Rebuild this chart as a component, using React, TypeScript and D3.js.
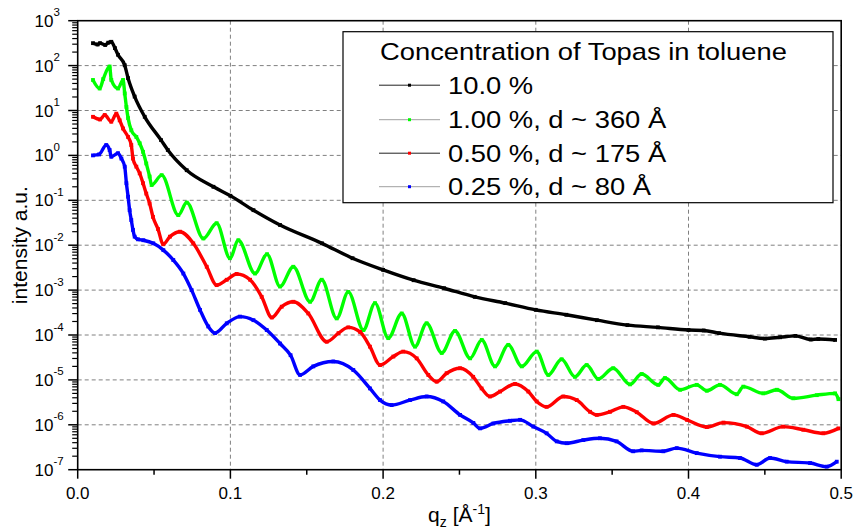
import React from "react";
import * as d3 from "d3";

const W = 857;
const H = 529;
const PLOT = { left: 77.7, right: 841.2, top: 20.7, bottom: 469.7 };
const FONT = "'Liberation Sans', Arial, Helvetica, sans-serif";

// axis ticks
const xMajorTicks = [0, 0.1, 0.2, 0.3, 0.4, 0.5];
const xTickLabels = ["0.0", "0.1", "0.2", "0.3", "0.4", "0.5"];
const xMinorTicks = [0.05, 0.15, 0.25, 0.35, 0.45];
const yExponents = [3, 2, 1, 0, -1, -2, -3, -4, -5, -6, -7];

const legendTitle = "Concentration of Topas in toluene";
const seriesLabels = ["10.0 %", "1.00 %, d ~ 360 \u00C5", "0.50 %, d ~ 175 \u00C5", "0.25 %, d ~ 80 \u00C5"];

// [q_z (1/Å), intensity (a.u.)]
const black10: [number, number][] = [
  [0.0100, 316], [0.0130, 295], [0.0146, 316], [0.0180, 288], [0.0200, 324], [0.0220, 339],
  [0.0244, 245], [0.0264, 174], [0.0308, 102], [0.0330, 52.5], [0.0373, 20.4], [0.0439, 7.24],
  [0.0546, 2.19], [0.0590, 1.32], [0.0714, 0.468], [0.0889, 0.200], [0.100, 0.126], [0.1151, 0.0603],
  [0.1325, 0.0282], [0.160, 0.0110], [0.180, 5.13e-3], [0.200, 2.82e-3], [0.220, 1.66e-3], [0.240, 1.10e-3],
  [0.260, 7.08e-4], [0.280, 5.13e-4], [0.300, 3.63e-4], [0.320, 2.82e-4], [0.340, 2.14e-4], [0.360, 1.66e-4],
  [0.380, 1.48e-4], [0.400, 1.29e-4], [0.410, 1.26e-4], [0.420, 1.10e-4], [0.440, 9.12e-5], [0.450, 8.32e-5],
  [0.460, 8.91e-5], [0.470, 9.55e-5], [0.480, 7.94e-5], [0.485, 8.13e-5], [0.496, 7.76e-5],
];

const green100: [number, number][] = [
  [0.0100, 47.9], [0.0144, 30.9], [0.0167, 50], [0.0209, 95.5], [0.0220, 47.9], [0.0264, 30.9],
  [0.0297, 47.9], [0.0308, 24.0], [0.0319, 12.0], [0.0330, 6.76], [0.0351, 3.63], [0.0384, 2.57],
  [0.0406, 1.86], [0.0428, 1.20], [0.0449, 0.661], [0.0471, 0.339], [0.0484, 0.219], [0.0550, 0.363],
  [0.0659, 0.0468], [0.0714, 0.0891], [0.0823, 0.0141], [0.0910, 0.0309], [0.0997, 5.13e-3], [0.1052, 0.0129],
  [0.1161, 2.34e-3], [0.1240, 6.31e-3], [0.1325, 1.20e-3], [0.1412, 3.31e-3], [0.1522, 5.50e-4], [0.1598, 1.70e-3],
  [0.1696, 2.34e-4], [0.1772, 9.12e-4], [0.1871, 1.29e-4], [0.1947, 5.13e-4], [0.2034, 8.51e-5], [0.2122, 3.02e-4],
  [0.2209, 5.50e-5], [0.2285, 1.82e-4], [0.2384, 3.98e-5], [0.2471, 1.23e-4], [0.2570, 3.02e-5], [0.2646, 7.76e-5],
  [0.2733, 2.00e-5], [0.2820, 6.03e-5], [0.2908, 2.00e-5], [0.3006, 4.27e-5], [0.3082, 1.29e-5], [0.3169, 2.88e-5],
  [0.3256, 1.17e-5], [0.3333, 2.14e-5], [0.3409, 1.05e-5], [0.3507, 1.82e-5], [0.3617, 7.94e-6], [0.3693, 1.35e-5],
  [0.3802, 7.76e-6], [0.3846, 1.10e-5], [0.3945, 6.03e-6], [0.4054, 7.76e-6], [0.4120, 5.75e-6], [0.4206, 7.76e-6],
  [0.4316, 4.79e-6], [0.4359, 7.08e-6], [0.4490, 5.01e-6], [0.4578, 6.03e-6], [0.4687, 3.89e-6], [0.4840, 4.57e-6],
  [0.4960, 5.01e-6], [0.4982, 3.72e-6],
];

const red050: [number, number][] = [
  [0.0100, 7.24], [0.0146, 6.31], [0.0177, 7.94], [0.0220, 5.62], [0.0253, 8.51], [0.0275, 6.03],
  [0.0297, 3.98], [0.0330, 2.57], [0.0351, 1.70], [0.0362, 0.851], [0.0384, 0.562], [0.0406, 0.398],
  [0.0428, 0.240], [0.0449, 0.141], [0.0471, 0.0851], [0.0493, 0.0427], [0.0526, 0.0229], [0.0560, 0.0105],
  [0.0604, 0.0155], [0.0670, 0.0200], [0.0757, 0.0110], [0.0845, 3.31e-3], [0.0910, 1.29e-3], [0.0976, 1.70e-3],
  [0.1041, 2.29e-3], [0.1129, 1.70e-3], [0.1205, 7.08e-4], [0.1271, 2.45e-4], [0.1336, 4.27e-4], [0.1412, 5.50e-4],
  [0.1510, 3.02e-4], [0.1631, 7.08e-5], [0.1708, 1.10e-4], [0.1772, 1.48e-4], [0.1849, 1.17e-4], [0.1914, 5.50e-5],
  [0.1980, 2.14e-5], [0.2067, 3.31e-5], [0.2132, 4.27e-5], [0.2220, 3.02e-5], [0.2296, 1.29e-5], [0.2351, 9.12e-6],
  [0.2416, 1.41e-5], [0.2504, 1.82e-5], [0.2590, 1.17e-5], [0.2645, 6.46e-6], [0.2700, 4.27e-6], [0.2766, 5.50e-6],
  [0.2864, 8.13e-6], [0.2951, 5.50e-6], [0.3006, 3.31e-6], [0.3071, 2.51e-6], [0.3180, 4.27e-6], [0.3268, 3.55e-6],
  [0.3355, 1.95e-6], [0.3399, 1.66e-6], [0.3486, 1.95e-6], [0.3573, 2.51e-6], [0.3661, 1.91e-6], [0.3771, 1.07e-6],
  [0.3902, 1.66e-6], [0.3990, 1.29e-6], [0.4120, 8.91e-7], [0.4229, 1.12e-6], [0.4382, 9.12e-7], [0.4480, 6.46e-7],
  [0.4620, 9.12e-7], [0.4752, 7.76e-7], [0.4883, 6.46e-7], [0.4982, 8.32e-7],
];

const blue025: [number, number][] = [
  [0.0100, 1.00], [0.0140, 1.05], [0.0187, 1.70], [0.0209, 1.32], [0.0220, 0.933], [0.0264, 1.12],
  [0.0286, 0.851], [0.0308, 0.562], [0.0319, 0.240], [0.0330, 0.120], [0.0340, 0.0603], [0.0351, 0.0363],
  [0.0362, 0.0219], [0.0373, 0.0155], [0.0395, 0.0135], [0.0430, 0.0129], [0.0495, 0.0110], [0.0561, 7.76e-3],
  [0.0626, 4.68e-3], [0.0692, 2.34e-3], [0.0746, 1.00e-3], [0.0801, 3.63e-4], [0.0855, 1.55e-4], [0.0899, 1.10e-4],
  [0.0976, 1.82e-4], [0.1063, 2.57e-4], [0.1151, 2.14e-4], [0.1238, 1.29e-4], [0.1325, 6.46e-5], [0.1394, 3.55e-5],
  [0.1456, 1.29e-5], [0.1543, 2.00e-5], [0.1674, 2.57e-5], [0.1805, 1.66e-5], [0.1914, 6.46e-6], [0.1980, 3.55e-6],
  [0.2056, 2.75e-6], [0.2176, 3.55e-6], [0.2285, 4.27e-6], [0.2394, 3.31e-6], [0.2504, 1.66e-6], [0.2591, 1.10e-6],
  [0.2635, 8.32e-7], [0.2722, 1.07e-6], [0.2831, 1.23e-6], [0.2897, 1.29e-6], [0.2984, 9.12e-7], [0.3071, 6.46e-7],
  [0.3137, 4.27e-7], [0.3202, 3.89e-7], [0.3311, 4.57e-7], [0.3420, 5.01e-7], [0.3529, 4.27e-7], [0.3638, 2.57e-7],
  [0.3693, 2.69e-7], [0.3835, 2.57e-7], [0.3923, 3.02e-7], [0.4054, 2.34e-7], [0.4206, 1.95e-7], [0.4337, 1.82e-7],
  [0.4447, 1.29e-7], [0.4534, 1.82e-7], [0.4643, 1.51e-7], [0.4796, 1.41e-7], [0.4905, 1.17e-7], [0.4971, 1.51e-7],
];

const seriesData = [black10, green100, red050, blue025];
const seriesColors = ["#000000", "#00ff00", "#ff0000", "#0000ff"];
const legendLineColors = ["#222222", "#a0a0a0", "#222222", "#a0a0a0"];

export default function App() {
  const x = d3.scaleLinear().domain([0, 0.5]).range([PLOT.left, PLOT.right]);
  const y = d3.scaleLog().domain([1e-7, 1e3]).range([PLOT.bottom, PLOT.top]);
  const line = d3
    .line<[number, number]>()
    .x((d) => x(d[0]))
    .y((d) => y(d[1]))
    .curve(d3.curveMonotoneX);

  const yMinor: number[] = [];
  for (let e = -7; e < 3; e++) for (let k = 2; k <= 9; k++) yMinor.push(k * Math.pow(10, e));

  const gridStyle = { stroke: "#808080", strokeWidth: 1, strokeDasharray: "4,3" };

  const legend = { x0: 343, y0: 31.7, x1: 833, y1: 202.7 };
  const entryBaselines = [93.5, 128, 161.5, 195];

  return (
    <svg width={W} height={H} style={{ position: "absolute", left: 0, top: 0, background: "#fff" }} fontFamily={FONT}>
      <defs>
        <clipPath id="plotclip">
          <rect x={PLOT.left} y={PLOT.top} width={PLOT.right - PLOT.left} height={PLOT.bottom - PLOT.top} />
        </clipPath>
      </defs>
      <rect x={0} y={0} width={W} height={H} fill="#fff" />

      {/* grid */}
      {xMajorTicks.slice(1, -1).map((t) => (
        <line key={"gx" + t} x1={x(t)} x2={x(t)} y1={PLOT.top} y2={PLOT.bottom} {...gridStyle} />
      ))}
      {yExponents.slice(1, -1).map((e) => (
        <line key={"gy" + e} x1={PLOT.left} x2={PLOT.right} y1={y(Math.pow(10, e))} y2={y(Math.pow(10, e))} {...gridStyle} />
      ))}

      {/* legend box */}
      <rect x={legend.x0} y={legend.y0} width={legend.x1 - legend.x0} height={legend.y1 - legend.y0} fill="#fff" stroke="#000" strokeWidth={1.2} />

      {/* data */}
      <g clipPath="url(#plotclip)">
        {seriesData.map((s, i) => (
          <g key={"s" + i}>
            <path d={line(s) || ""} fill="none" stroke={seriesColors[i]} strokeWidth={3.4} strokeLinejoin="round" />
            {s.map((d, j) => (
              <rect key={j} x={x(d[0]) - 1.9} y={y(d[1]) - 1.9} width={3.8} height={3.8} fill={seriesColors[i]} />
            ))}
          </g>
        ))}
      </g>

      {/* legend content */}
      <g transform={`translate(380,60) scale(1.14,1)`}>
        <text fontSize={24} fill="#000">{legendTitle}</text>
      </g>
      {seriesLabels.map((lab, i) => (
        <g key={"lg" + i}>
          <line x1={379} x2={440} y1={entryBaselines[i] - 8.3} y2={entryBaselines[i] - 8.3} stroke={legendLineColors[i]} strokeWidth={1} />
          <rect x={408} y={entryBaselines[i] - 9.8} width={3} height={3} fill={seriesColors[i]} />
          <g transform={`translate(448,${entryBaselines[i]}) scale(1.14,1)`}>
            <text fontSize={24} fill="#000">{lab}</text>
          </g>
        </g>
      ))}

      {/* frame */}
      <rect x={PLOT.left} y={PLOT.top} width={PLOT.right - PLOT.left} height={PLOT.bottom - PLOT.top} fill="none" stroke="#000" strokeWidth={1.6} />

      {/* x ticks */}
      {xMajorTicks.map((t, i) => (
        <g key={"xt" + t}>
          <line x1={x(t)} x2={x(t)} y1={PLOT.bottom} y2={PLOT.bottom + 9} stroke="#000" strokeWidth={1.5} />
          <text x={x(t)} y={499} fontSize={17} textAnchor="middle" fill="#000">{xTickLabels[i]}</text>
        </g>
      ))}
      {xMinorTicks.map((t) => (
        <line key={"xm" + t} x1={x(t)} x2={x(t)} y1={PLOT.bottom} y2={PLOT.bottom + 5} stroke="#000" strokeWidth={1.5} />
      ))}

      {/* y ticks */}
      {yExponents.map((e) => {
        const ty = y(Math.pow(10, e));
        return (
          <g key={"yt" + e}>
            <line x1={PLOT.left - 9.5} x2={PLOT.left} y1={ty} y2={ty} stroke="#000" strokeWidth={1.5} />
            <text x={34.5} y={ty + 6} fontSize={17} fill="#000">
              10
              <tspan dy={-10.5} fontSize={11.5}>{e < 0 ? "-" + Math.abs(e) : String(e)}</tspan>
            </text>
          </g>
        );
      })}
      {yMinor.map((v, i) => (
        <line key={"ym" + i} x1={PLOT.left - 5.5} x2={PLOT.left} y1={y(v)} y2={y(v)} stroke="#000" strokeWidth={1.2} />
      ))}

      {/* axis titles */}
      <text x={(PLOT.left + PLOT.right) / 2} y={522} fontSize={21} textAnchor="middle" fill="#000">
        q<tspan dy={5} fontSize={14}>z</tspan>
        <tspan dy={-5}> [{"\u00C5"}</tspan>
        <tspan dy={-8} fontSize={14}>-1</tspan>
        <tspan dy={8}>]</tspan>
      </text>
      <text
        transform={`translate(26.5,${(PLOT.top + PLOT.bottom) / 2}) rotate(-90)`}
        fontSize={21}
        textAnchor="middle"
        fill="#000"
      >
        intensity a.u.
      </text>
    </svg>
  );
}
